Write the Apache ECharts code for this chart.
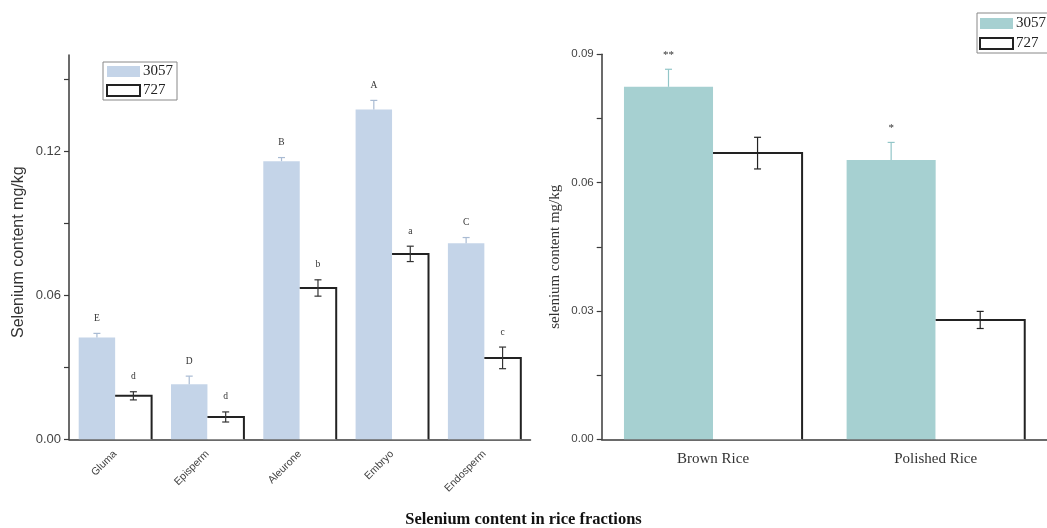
<!DOCTYPE html>
<html><head><meta charset="utf-8">
<script src="https://cdn.jsdelivr.net/npm/echarts@6/dist/echarts.min.js"></script>
<style>html,body{margin:0;padding:0;background:#fff}#c{width:1047px;height:528px}</style>
</head><body><div id="c"></div>
<script>
// ---- data ----
const fractions = ['Gluma', 'Episperm', 'Aleurone', 'Embryo', 'Endosperm'];
const frac3057 = [0.0424, 0.0229, 0.1158, 0.1373, 0.0816];
const frac3057Err = [0.0017, 0.0034, 0.0015, 0.0038, 0.0024];
const frac3057Sig = ['E', 'D', 'B', 'A', 'C'];
const frac727 = [0.0181, 0.0093, 0.0630, 0.0772, 0.0339];
const frac727Err = [0.0017, 0.0021, 0.0034, 0.0032, 0.0045];
const frac727Sig = ['d', 'd', 'b', 'a', 'c'];

const riceTypes = ['Brown Rice', 'Polished Rice'];
const rice3057 = [0.0824, 0.0653];
const rice3057Err = [0.0041, 0.0041];
const rice3057Sig = ['**', '*'];
const rice727 = [0.0669, 0.0279];
const rice727Err = [0.0037, 0.0020];
const rice727Sig = ['', ''];

const leftTickValues = [0, 0.03, 0.06, 0.09, 0.12, 0.15];
const leftLabelValues = [0, 0.06, 0.12];
const rightTickValues = [0, 0.015, 0.03, 0.045, 0.06, 0.075, 0.09];
const rightLabelValues = [0, 0.03, 0.06, 0.09];

const seriesNames = ['3057', '727'];

// ---- styles ----
const BLUE = '#c4d4e8', TEAL = '#a6d0d1';
const LEFT_RATIO = 0.395, RIGHT_RATIO = 0.40;
const SANS = '"Liberation Sans", Arial, sans-serif';
const SERIF = '"Liberation Serif", "Times New Roman", serif';

// error bars (+ optional top/right outline of the bar) drawn through the axes
function errSeries(xi, vals, errs, sigs, side, ratio, color, sigFont, sigGap, outline) {
  return {
    type: 'custom', xAxisIndex: xi, yAxisIndex: xi, z: 5, silent: true,
    data: vals.map((v, i) => [i, v, errs[i]]),
    encode: { x: 0, y: 1 },
    renderItem(params, api) {
      const i = api.value(0), v = api.value(1), e = api.value(2);
      const band = api.size([1, 0])[0];
      const bw = band * ratio;
      const c = api.coord([i, v]);
      const x = c[0] + side * bw / 2;
      const top = api.coord([i, v + e])[1];
      const bot = outline ? api.coord([i, v - e])[1] : c[1];
      const base = api.coord([i, 0])[1];
      const cap = 3.5;
      const st = { stroke: color, lineWidth: 1.2 };
      const children = [];
      if (outline) {
        children.push({ type: 'polyline',
          shape: { points: [[c[0], c[1]], [c[0] + bw, c[1]], [c[0] + bw, base]] },
          style: { stroke: '#222', lineWidth: 2, fill: null } });
      }
      children.push(
        { type: 'line', shape: { x1: x, y1: top, x2: x, y2: bot }, style: st },
        { type: 'line', shape: { x1: x - cap, y1: top, x2: x + cap, y2: top }, style: st }
      );
      if (outline) children.push({ type: 'line', shape: { x1: x - cap, y1: bot, x2: x + cap, y2: bot }, style: st });
      const s = sigs[params.dataIndex];
      if (s) children.push({ type: 'text', x: x, y: top - sigGap,
        style: { text: s, fill: '#333', font: sigFont, align: 'center', verticalAlign: 'middle' } });
      return { type: 'group', children };
    }
  };
}

const axisLineStyle = { lineStyle: { color: '#3a3a3a', width: 1.5 } };

const option = {
  backgroundColor: '#fff',
  animation: false,
  title: {
    text: 'Selenium content in rice fractions', left: 'center', top: 506,
    textStyle: { fontFamily: SERIF, fontWeight: 'bold', fontSize: 16.5, color: '#111' }
  },
  legend: [
    {
      left: 103, top: 62, orient: 'vertical', itemWidth: 33, itemHeight: 11, itemGap: 4,
      padding: [2, 4, 2, 3], borderColor: '#888', borderWidth: 1, backgroundColor: '#fff',
      selectedMode: false,
      textStyle: { fontFamily: SERIF, fontSize: 15, color: '#222', lineHeight: 15, padding: [0, 0, 0, -2] },
      data: [
        { name: seriesNames[0], icon: 'rect', itemStyle: { color: BLUE, borderWidth: 0 } },
        { name: seriesNames[1], icon: 'rect', itemStyle: { color: '#fff', borderColor: '#222', borderWidth: 2 } }
      ]
    },
    {
      left: 977, top: 13, orient: 'vertical', itemWidth: 33, itemHeight: 11, itemGap: 5,
      padding: [3, 5, 2, 2], borderColor: '#888', borderWidth: 1, backgroundColor: '#fff',
      selectedMode: false,
      textStyle: { fontFamily: SERIF, fontSize: 15, color: '#222', lineHeight: 15, padding: [0, 0, 0, -2] },
      data: [
        { name: seriesNames[0], icon: 'rect', itemStyle: { color: TEAL, borderWidth: 0 } },
        { name: seriesNames[1], icon: 'rect', itemStyle: { color: '#fff', borderColor: '#222', borderWidth: 2 } }
      ]
    }
  ],
  grid: [
    { left: 69, right: 516.5, top: 55, bottom: 88.7 },
    { left: 601.7, right: -14, top: 54.3, bottom: 88.7 }
  ],
  xAxis: [
    {
      type: 'category', gridIndex: 0, data: fractions,
      axisLine: axisLineStyle, axisTick: { show: false },
      axisLabel: { rotate: 45, fontSize: 10.5, fontFamily: SANS, color: '#444', margin: 13 }
    },
    {
      type: 'category', gridIndex: 1, data: riceTypes,
      axisLine: axisLineStyle, axisTick: { show: false },
      axisLabel: { fontSize: 15, fontFamily: SERIF, color: '#333', margin: 12 }
    }
  ],
  yAxis: [
    {
      type: 'value', gridIndex: 0, min: 0, max: 0.16,
      name: 'Selenium content mg/kg', nameLocation: 'middle', nameGap: 42,
      nameTextStyle: { fontFamily: SANS, fontSize: 16, color: '#333', padding: [0, 10, 0, 0] },
      axisLine: { show: true, lineStyle: { color: '#3a3a3a', width: 1.5 } },
      axisTick: { show: true, length: 5, customValues: leftTickValues, lineStyle: { color: '#3a3a3a', width: 1.2 } },
      axisLabel: { customValues: leftLabelValues, formatter: v => v.toFixed(2), fontFamily: SANS, fontSize: 13, color: '#444', margin: 8 },
      splitLine: { show: false }
    },
    {
      type: 'value', gridIndex: 1, min: 0, max: 0.09,
      name: 'selenium content mg/kg', nameLocation: 'middle', nameGap: 39,
      nameTextStyle: { fontFamily: SERIF, fontSize: 15, color: '#333', padding: [0, 20, 0, 0] },
      axisLine: { show: true, lineStyle: { color: '#3a3a3a', width: 1.5 } },
      axisTick: { show: true, length: 5, customValues: rightTickValues, lineStyle: { color: '#3a3a3a', width: 1.2 } },
      axisLabel: { customValues: rightLabelValues, formatter: v => v.toFixed(2), fontFamily: SANS, fontSize: 11.5, color: '#444', margin: 8 },
      splitLine: { show: false }
    }
  ],
  series: [
    { name: seriesNames[0], type: 'bar', xAxisIndex: 0, yAxisIndex: 0, data: frac3057,
      barWidth: (LEFT_RATIO * 100) + '%', barGap: '0%', itemStyle: { color: BLUE } },
    { name: seriesNames[1], type: 'bar', xAxisIndex: 0, yAxisIndex: 0, data: frac727,
      barWidth: (LEFT_RATIO * 100) + '%', barGap: '0%', itemStyle: { color: '#fff' } },
    { name: seriesNames[0], type: 'bar', xAxisIndex: 1, yAxisIndex: 1, data: rice3057,
      barWidth: (RIGHT_RATIO * 100) + '%', barGap: '0%', itemStyle: { color: TEAL } },
    { name: seriesNames[1], type: 'bar', xAxisIndex: 1, yAxisIndex: 1, data: rice727,
      barWidth: (RIGHT_RATIO * 100) + '%', barGap: '0%', itemStyle: { color: '#fff' } },
    errSeries(0, frac3057, frac3057Err, frac3057Sig, -1, LEFT_RATIO, '#a9bbd3', '9.5px ' + SERIF, 15, false),
    errSeries(0, frac727, frac727Err, frac727Sig, 1, LEFT_RATIO, '#333', '9.5px ' + SERIF, 15, true),
    errSeries(1, rice3057, rice3057Err, rice3057Sig, -1, RIGHT_RATIO, '#92c6c8', '11px ' + SERIF, 14, false),
    errSeries(1, rice727, rice727Err, rice727Sig, 1, RIGHT_RATIO, '#222', '11px ' + SERIF, 14, true)
  ]
};

const chart = echarts.init(document.getElementById('c'), null, { renderer: 'canvas' });
chart.setOption(option);
</script>
</body></html>
